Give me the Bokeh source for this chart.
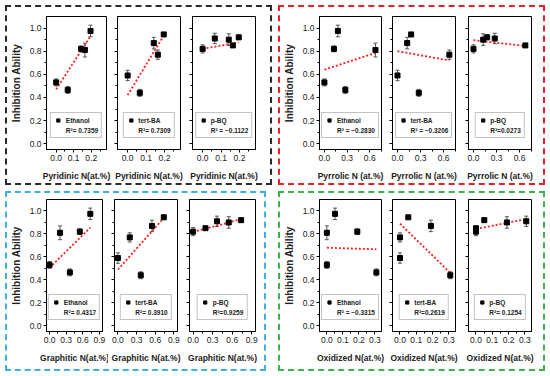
from bokeh.plotting import figure
from bokeh.layouts import row, column
from bokeh.models import (Range1d, FixedTicker, PrintfTickFormatter, Whisker, TeeHead,
                          ColumnDataSource, Legend, LegendItem, Label, Spacer,
                          CustomJSTickFormatter)
from bokeh.embed import file_html
from bokeh.resources import INLINE

FONT = "Liberation Sans"

# ---- data: five samples ----
pyridinic = [0.0, 0.066, 0.142, 0.164, 0.196]
pyrrolic = [0.0, 0.277, 0.126, 0.675, 0.178]
graphitic = [0.0, 0.367, 0.547, 0.19, 0.737]
oxidized = [0.0, 0.309, 0.19, 0.0, 0.051]

ethanol = [0.53, 0.465, 0.82, 0.81, 0.975]
tert_ba = [0.59, 0.44, 0.87, 0.77, 0.945]
p_bq = [0.82, 0.91, 0.90, 0.85, 0.92]

ethanol_err = [0.03, 0.03, 0.025, 0.06, 0.05]
tert_ba_err = [0.045, 0.03, 0.05, 0.04, 0.015]
p_bq_err = [0.035, 0.045, 0.05, 0.015, 0.02]

scavengers = ["Ethanol", "tert-BA", "p-BQ"]

# fitted-line values (y at smallest and largest x)
fit_pyridinic = [[0.47, 0.93], [0.42, 0.935], [0.82, 0.876]]
fit_pyrrolic = [[0.64, 0.785], [0.80, 0.72], [0.895, 0.845]]
fit_graphitic = [[0.505, 0.855], [0.49, 0.94], [0.817, 0.928]]
fit_oxidized = [[0.68, 0.666], [0.89, 0.46], [0.843, 0.93]]

r2_pyridinic = ["R\u00b2= 0.7359", "R\u00b2= 0.7309", "R\u00b2 = \u22120.1122"]
r2_pyrrolic = ["R\u00b2 = \u22120.2830", "R\u00b2 = \u22120.3206", "R\u00b2=0.0273"]
r2_graphitic = ["R\u00b2= 0.4317", "R\u00b2= 0.3910", "R\u00b2=0.9259"]
r2_oxidized = ["R\u00b2 = \u22120.3315", "R\u00b2=0.2619", "R\u00b2= 0.1254"]

x_labels = ["Pyridinic N(at.%)", "Pyrrolic N (at.%)", "Graphitic N(at.%)", "Oxidized N(at.%)"]
x_ticks_pyridinic = [0.0, 0.1, 0.2]
x_ticks_pyrrolic = [0.0, 0.3, 0.6]
x_ticks_graphitic = [0.0, 0.3, 0.6, 0.9]
x_ticks_oxidized = [0.0, 0.1, 0.2, 0.3]
y_ticks = [0.0, 0.2, 0.4, 0.6, 0.8, 1.0]
panel_letters = ["(a)", "(b)", "(c)", "(d)"]

YS = [ethanol, tert_ba, p_bq]
ERRS = [ethanol_err, tert_ba_err, p_bq_err]


def make_sub(xv, k, fit, r2, xr, ticks, minor, xlabel, w, left, right, top, bottom, first,
             letter=None, letter_pos=(0, 0)):
    yv = YS[k]
    ev = ERRS[k]
    p = figure(width=w, height=176, x_range=Range1d(*xr), y_range=Range1d(-0.05, 1.1),
               output_backend="svg", toolbar_location=None,
               min_border_left=left, min_border_right=right,
               min_border_top=top, min_border_bottom=bottom)
    p.xgrid.visible = False
    p.ygrid.visible = False
    p.outline_line_color = "black"
    p.outline_line_width = 1
    p.background_fill_color = "white"
    p.border_fill_color = "white"

    src = ColumnDataSource(dict(x=xv, y=yv,
                                up=[a + b for a, b in zip(yv, ev)],
                                lo=[a - b for a, b in zip(yv, ev)]))
    p.line([min(xv), max(xv)], fit, line_color="#ff1e1e", line_dash="2 2", line_width=1.8)
    wk = Whisker(source=src, base="x", upper="up", lower="lo", line_color="#555",
                 line_width=1,
                 upper_head=TeeHead(size=4, line_color="#555", line_width=1),
                 lower_head=TeeHead(size=4, line_color="#555", line_width=1))
    p.add_layout(wk)
    sc = p.scatter("x", "y", source=src, marker="square", size=5, color="black")
    dummy = p.scatter(x=[], y=[], marker="square", alpha=0)

    leg = Legend(items=[LegendItem(label=scavengers[k], renderers=[sc]),
                        LegendItem(label=r2, renderers=[dummy])],
                 location="bottom_center", margin=11, padding=3, spacing=2,
                 glyph_width=8, glyph_height=8, label_height=8, label_standoff=4,
                 label_text_font=FONT, label_text_font_size="6.5px",
                 label_text_font_style="bold", label_text_color="#222",
                 border_line_color="#888", border_line_width=1,
                 background_fill_color="white", background_fill_alpha=1)
    p.add_layout(leg)

    xa = p.xaxis[0]
    xa.ticker = FixedTicker(ticks=ticks, minor_ticks=minor)
    xa.formatter = PrintfTickFormatter(format="%.1f")
    xa.axis_label = xlabel
    xa.axis_label_text_font = FONT
    xa.axis_label_text_font_size = "8.5px"
    xa.axis_label_text_font_style = "bold"
    xa.axis_label_text_color = "#222"
    xa.axis_label_standoff = 7
    xa.major_label_text_font = FONT
    xa.major_label_text_font_size = "8.5px"
    xa.major_label_text_color = "#222"
    xa.major_label_standoff = 2
    xa.major_tick_in = 0
    xa.major_tick_out = 3
    xa.minor_tick_in = 0
    xa.minor_tick_out = 2
    xa.axis_line_color = "black"

    ya = p.yaxis[0]
    ya.ticker = FixedTicker(ticks=y_ticks, minor_ticks=[0.1, 0.3, 0.5, 0.7, 0.9])
    ya.major_tick_in = 0
    ya.major_tick_out = 3
    ya.minor_tick_in = 0
    ya.minor_tick_out = 2
    ya.axis_line_color = "black"
    if first:
        ya.formatter = PrintfTickFormatter(format="%.1f")
        ya.axis_label = "Inhibition Ability"
        ya.axis_label_text_font = FONT
        ya.axis_label_text_font_size = "10px"
        ya.axis_label_text_font_style = "bold"
        ya.axis_label_text_color = "#222"
        ya.axis_label_standoff = 5
        ya.major_label_text_font = FONT
        ya.major_label_text_font_size = "8.5px"
        ya.major_label_text_color = "#222"
        ya.major_label_standoff = 2
    else:
        ya.formatter = CustomJSTickFormatter(code="return ''")
        ya.major_label_standoff = 0
    if letter is not None:
        p.add_layout(Label(x=letter_pos[0], y=letter_pos[1], x_units="screen", y_units="screen",
                           text=letter, text_font=FONT, text_font_size="15px",
                           text_font_style="bold", text_baseline="middle", text_color="#111"))
    return p


def make_panel(xv, fits, r2s, xr, ticks, minor, xlabel, widths, lefts, rights, top, bottom,
               letter, letter_pos, color):
    figs = []
    for k in range(3):
        figs.append(make_sub(xv, k, fits[k], r2s[k], xr, ticks, minor, xlabel,
                             widths[k], lefts[k], rights[k], top, bottom, k == 0,
                             letter if k == 0 else None, letter_pos))
    return row(*figs, styles={"border": "2px dashed " + color})


pa = make_panel(pyridinic, fit_pyridinic, r2_pyridinic, (-0.055, 0.287), x_ticks_pyridinic,
                [0.05, 0.15, 0.25], x_labels[0], [104, 75, 84], [36, 6, 6], [5, 6, 15],
                9, 34, panel_letters[0], (-36, 129), "#2a2a2a")
pb = make_panel(pyrrolic, fit_pyrrolic, r2_pyrrolic, (-0.065, 0.755), x_ticks_pyrrolic,
                [0.15, 0.45, 0.75], x_labels[1], [106, 75, 82], [38, 6, 7], [5, 6, 12],
                9, 34, panel_letters[1], (-38, 129), "#e8202a")
pc = make_panel(graphitic, fit_graphitic, r2_graphitic, (-0.055, 0.957), x_ticks_graphitic,
                [0.15, 0.45, 0.75], x_labels[2], [101, 75, 81], [33, 6, 6], [6, 6, 9],
                6, 38, panel_letters[2], (-33, 130), "#3fb0e4")
pd_ = make_panel(oxidized, fit_oxidized, r2_oxidized, (-0.046, 0.341), x_ticks_oxidized,
                 [0.05, 0.15, 0.25], x_labels[3], [106, 75, 82], [38, 6, 7], [5, 6, 12],
                 6, 38, panel_letters[3], (-38, 130), "#3cb44b")

layout = column(
    Spacer(width=540, height=5),
    row(Spacer(width=5, height=180), pa, Spacer(width=6, height=180), pb),
    Spacer(width=540, height=6),
    row(Spacer(width=5, height=180), pc, Spacer(width=12, height=180), pd_),
)

open("out.html", "w").write(file_html(layout, INLINE))
